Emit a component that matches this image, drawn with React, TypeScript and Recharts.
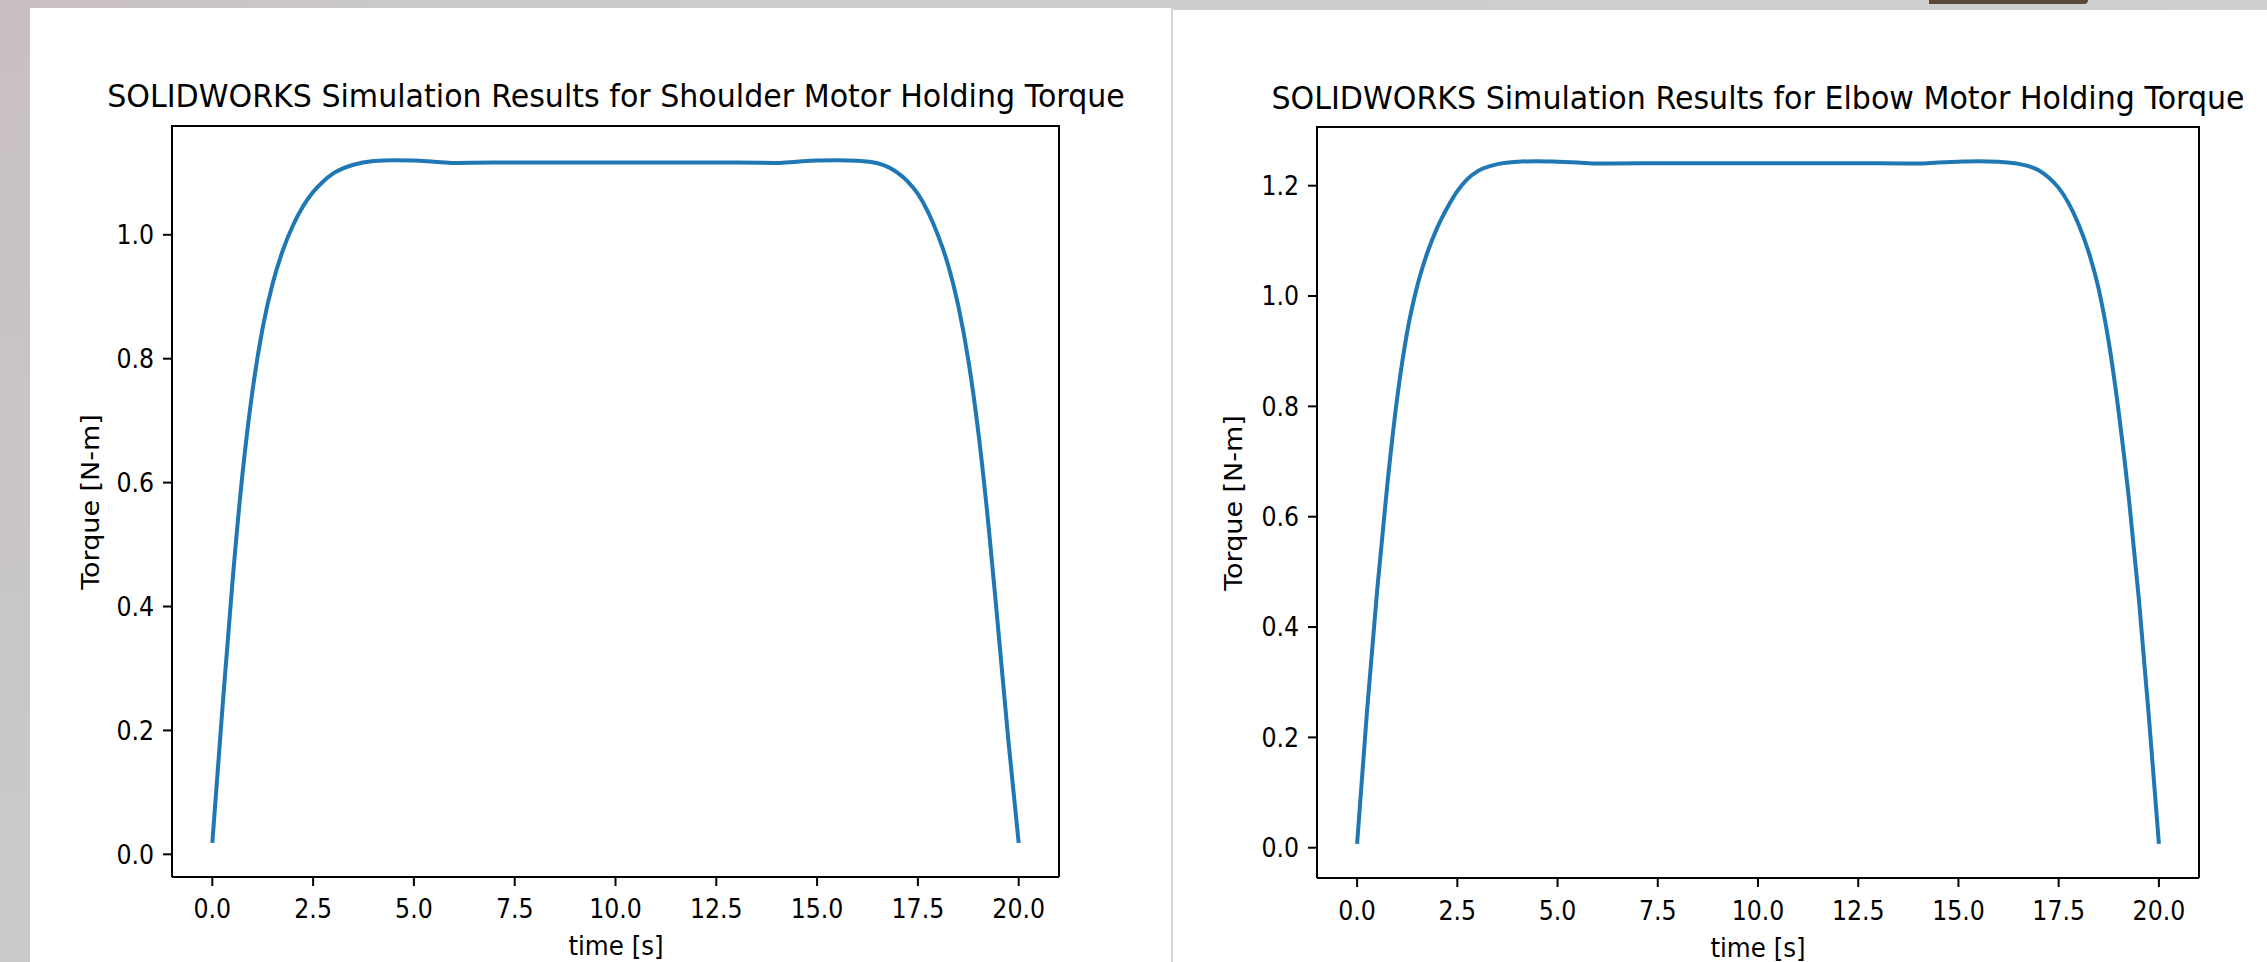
import { LineChart, Line, XAxis, YAxis } from 'recharts';

// time axis ticks shared by both plots
const xTicks = [0, 2.5, 5, 7.5, 10, 12.5, 15, 17.5, 20];

// shoulder motor
const shoulderTime = [
  0, 0.25, 0.5, 0.75, 1.0, 1.25, 1.5, 1.75, 2.0, 2.25, 2.5, 2.75, 3.0, 3.5, 4.0, 4.5, 5.0, 5.5, 6.0,
  7, 8, 9, 10, 11, 12, 13, 14, 14.5, 15, 15.5, 16, 16.5, 17, 17.25, 17.5, 17.75, 18, 18.25, 18.5, 18.75,
  19, 19.25, 19.5, 19.75, 20,
];
const shoulderTorque = [
  0.0185, 0.235, 0.44, 0.615, 0.75, 0.85, 0.922, 0.975, 1.015, 1.046, 1.069, 1.086, 1.099, 1.113, 1.119,
  1.1205, 1.12, 1.118, 1.116, 1.1165, 1.1165, 1.1165, 1.1165, 1.1165, 1.1165, 1.1165, 1.116, 1.118, 1.1198,
  1.1205, 1.1195, 1.1155, 1.1, 1.086, 1.066, 1.037, 0.999, 0.951, 0.886, 0.798, 0.681, 0.532, 0.358, 0.18,
  0.0185,
];
const shoulderYTicks = [0, 0.2, 0.4, 0.6, 0.8, 1.0];

// elbow motor
const elbowTime = [
  0, 0.25, 0.5, 0.75, 1.0, 1.25, 1.5, 1.75, 2.0, 2.25, 2.5, 2.75, 3.0, 3.5, 4.0, 4.5, 5.0, 5.5, 6.0,
  7, 8, 9, 10, 11, 12, 13, 14, 14.5, 15, 15.5, 16, 16.5, 17, 17.25, 17.5, 17.75, 18, 18.25, 18.5, 18.75,
  19, 19.25, 19.5, 19.75, 20,
];
const elbowTorque = [
  0.007, 0.25, 0.466, 0.655, 0.815, 0.935, 1.018, 1.078, 1.124, 1.16, 1.19, 1.212, 1.226, 1.239, 1.2435,
  1.2445, 1.2435, 1.242, 1.24, 1.2405, 1.2405, 1.2405, 1.2405, 1.2405, 1.2405, 1.2405, 1.24, 1.242, 1.2435,
  1.2445, 1.2435, 1.2395, 1.228, 1.215, 1.196, 1.168, 1.129, 1.079, 1.012, 0.916, 0.788, 0.634, 0.451, 0.237,
  0.007,
];
const elbowYTicks = [0, 0.2, 0.4, 0.6, 0.8, 1.0, 1.2];

const FONT = '"DejaVu Sans", sans-serif';
const SQUEEZE = 0.91; // the screenshot is a bit narrower than tall

// matplotlib-like autoscale: 5% margin on each side
const padDomain = (vals: number[]): [number, number] => {
  const lo = Math.min(...vals);
  const hi = Math.max(...vals);
  const m = (hi - lo) * 0.05;
  return [lo - m, hi + m];
};

const XTick = (props: any) => {
  const { x, y, payload } = props;
  return (
    <text
      transform={`translate(${x},${y}) scale(${SQUEEZE},1)`}
      textAnchor="middle"
      dy="0.73em"
      fontSize={26}
      fontFamily={FONT}
      fill="#000"
    >
      {Number(payload.value).toFixed(1)}
    </text>
  );
};

const YTick = (props: any) => {
  const { x, y, payload } = props;
  return (
    <text
      transform={`translate(${x},${y}) scale(${SQUEEZE},1)`}
      textAnchor="end"
      dy="0.36em"
      fontSize={26}
      fontFamily={FONT}
      fill="#000"
    >
      {Number(payload.value).toFixed(1)}
    </text>
  );
};

interface PanelProps {
  left: number;
  top: number;
  plotW: number;
  plotH: number;
  time: number[];
  torque: number[];
  yTicks: number[];
  xTickMargin: number;
}

function Panel({ left, top, plotW, plotH, time, torque, yTicks, xTickMargin }: PanelProps) {
  const data = time.map((t, i) => ({ t, torque: torque[i] }));
  const yAxisW = 100;
  const xAxisH = 60;
  return (
    <>
      <div style={{ position: 'absolute', left: left - yAxisW, top: top - 5 }}>
        <LineChart
          width={yAxisW + plotW + 5}
          height={5 + plotH + xAxisH}
          data={data}
          margin={{ top: 5, right: 5, bottom: 0, left: 0 }}
        >
          <XAxis
            dataKey="t"
            type="number"
            domain={[-1, 21]}
            ticks={xTicks}
            interval={0}
            height={xAxisH}
            tickSize={9}
            tickMargin={xTickMargin}
            tickLine={{ stroke: '#000', strokeWidth: 2 }}
            axisLine={{ stroke: '#000', strokeWidth: 2 }}
            tick={XTick}
          />
          <YAxis
            type="number"
            domain={padDomain(torque)}
            ticks={yTicks}
            interval={0}
            width={yAxisW}
            tickSize={9}
            tickMargin={9}
            allowDataOverflow
            tickLine={{ stroke: '#000', strokeWidth: 2 }}
            axisLine={{ stroke: '#000', strokeWidth: 2 }}
            tick={YTick}
          />
          <Line
            dataKey="torque"
            type="monotone"
            stroke="#1f77b4"
            strokeWidth={4}
            dot={false}
            activeDot={false}
            isAnimationActive={false}
          />
        </LineChart>
      </div>
      {/* top and right spines */}
      <div
        style={{
          position: 'absolute',
          left: left - 1,
          top: top - 1,
          width: plotW + 2,
          height: plotH + 1,
          borderTop: '2px solid #000',
          borderRight: '2px solid #000',
          boxSizing: 'border-box',
          pointerEvents: 'none',
        }}
      />
    </>
  );
}

const Label = ({ x, y, size, sx = SQUEEZE, rotate, children }: { x: number; y: number; size: number; sx?: number; rotate?: boolean; children: string }) => (
  <text
    transform={`translate(${x},${y}) scale(${sx},1)${rotate ? ' rotate(-90)' : ''}`}
    textAnchor="middle"
    fontSize={size}
    fontFamily={FONT}
    fill="#000"
  >
    {children}
  </text>
);

export default function App() {
  return (
    <div
      style={{
        position: 'absolute',
        left: 0,
        top: 0,
        width: 2267,
        height: 962,
        overflow: 'hidden',
        background: 'linear-gradient(90deg, #c9bfc0 0px, #cbc9cb 400px, #cdcdcf 1200px, #cfcfd1 2267px)',
      }}
    >
      <div style={{ position: 'absolute', left: 0, top: 0, width: 30, height: 962, background: 'linear-gradient(180deg, #c8bfc0, #c9c6c8 60%, #cacacc)' }} />
      <div style={{ position: 'absolute', left: 1929, top: 0, width: 159, height: 4, background: '#5c4838', borderBottomRightRadius: 40 }} />
      {/* white screenshot cards */}
      <div style={{ position: 'absolute', left: 30, top: 8, width: 1141, height: 954, background: '#fff' }} />
      <div style={{ position: 'absolute', left: 1171, top: 8, width: 2, height: 954, background: '#d6d6d6' }} />
      <div style={{ position: 'absolute', left: 1173, top: 10, width: 1094, height: 952, background: '#fff' }} />

      <Panel
        left={172}
        top={126}
        plotW={887}
        plotH={751}
        time={shoulderTime}
        torque={shoulderTorque}
        yTicks={shoulderYTicks}
        xTickMargin={13}
      />
      <Panel
        left={1317}
        top={127}
        plotW={882}
        plotH={751}
        time={elbowTime}
        torque={elbowTorque}
        yTicks={elbowYTicks}
        xTickMargin={14}
      />

      <svg width={2267} height={962} style={{ position: 'absolute', left: 0, top: 0, pointerEvents: 'none' }}>
        <Label x={616} y={107} size={32} sx={0.94}>SOLIDWORKS Simulation Results for Shoulder Motor Holding Torque</Label>
        <Label x={1758} y={109} size={32} sx={0.94}>SOLIDWORKS Simulation Results for Elbow Motor Holding Torque</Label>
        <Label x={616} y={955} size={27}>time [s]</Label>
        <Label x={1758} y={957} size={27}>time [s]</Label>
        <Label x={99} y={502} size={27} rotate>Torque [N-m]</Label>
        <Label x={1242} y={503} size={27} rotate>Torque [N-m]</Label>
      </svg>
    </div>
  );
}
